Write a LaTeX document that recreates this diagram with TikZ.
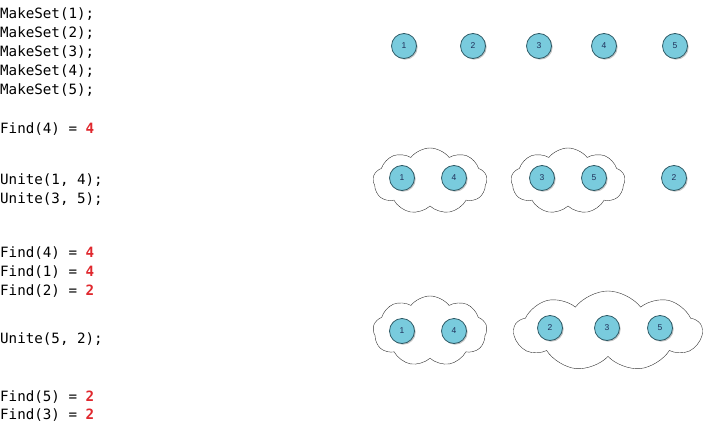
\documentclass[tikz,border=0pt]{standalone}
\usepackage{fontspec}
\setmonofont{DejaVu Sans Mono}
\newfontfamily\labelfont{Liberation Sans}
\usetikzlibrary{shapes.symbols,shadows}
\definecolor{dsublue}{HTML}{79CBDD}
\definecolor{dsuedge}{HTML}{2E5A66}
\definecolor{dsulabel}{HTML}{1F2F5A}
\definecolor{dsured}{HTML}{E0282E}
\tikzset{
  codeline/.style={anchor=west,inner sep=0pt,font=\ttfamily\fontsize{14.2}{16}\selectfont},
  elem/.style={circle,draw=dsuedge,thick,fill=dsublue,minimum size=25pt,inner sep=0pt,
    font=\labelfont\fontsize{8.5}{9}\selectfont,text=dsulabel,
    drop shadow={shadow xshift=1.2pt,shadow yshift=-1.2pt,opacity=0.45}},
  setcloud/.style={cloud,cloud puffs=9,cloud puff arc=105,cloud ignores aspect,draw=black!80,fill=white,thin,inner sep=0pt}
}
\newcommand{\res}[1]{\textcolor{dsured}{\textbf{#1}}}

\begin{document}
\begin{tikzpicture}[x=1pt,y=-1pt]
\useasboundingbox (0,0) rectangle (703,425);
% code column
\node[codeline] (ms1) at (0,14) {MakeSet(1);};
\node[codeline] (ms2) at (0,33) {MakeSet(2);};
\node[codeline] (ms3) at (0,52) {MakeSet(3);};
\node[codeline] (ms4) at (0,71) {MakeSet(4);};
\node[codeline] (ms5) at (0,90) {MakeSet(5);};
\node[codeline] (fa4) at (0,129) {Find(4) = \res{4}};
\node[codeline] (u14) at (0,180) {Unite(1, 4);};
\node[codeline] (u35) at (0,199) {Unite(3, 5);};
\node[codeline] (fb4) at (0,253) {Find(4) = \res{4}};
\node[codeline] (fb1) at (0,272) {Find(1) = \res{4}};
\node[codeline] (fb2) at (0,291) {Find(2) = \res{2}};
\node[codeline] (u52) at (0,339) {Unite(5, 2);};
\node[codeline] (fc5) at (0,397) {Find(5) = \res{2}};
\node[codeline] (fc3) at (0,415) {Find(3) = \res{2}};
% singletons
\foreach \i/\x in {1/404,2/473,3/539,4/604,5/675}
  \node[elem] (a\i) at (\x,46) {\i};
% after first unions
\node[setcloud,minimum width=114pt,minimum height=66pt] (b14) at (430,181) {};
\node[setcloud,minimum width=114pt,minimum height=66pt] (b35) at (568,181) {};
\node[elem] (b1) at (402,178) {1};
\node[elem] (b4) at (454,178) {4};
\node[elem] (b3) at (542,178) {3};
\node[elem] (b5) at (594,178) {5};
\node[elem] (b2) at (674,178) {2};
% after second union
\node[setcloud,minimum width=114pt,minimum height=70pt] (c14) at (430,331) {};
\node[setcloud,minimum width=188pt,minimum height=80pt] (c235) at (608,331) {};
\node[elem] (c1) at (402,331) {1};
\node[elem] (c4) at (454,331) {4};
\node[elem] (c2) at (550,328) {2};
\node[elem] (c3) at (607,328) {3};
\node[elem] (c5) at (660,328) {5};
\end{tikzpicture}
\end{document}
